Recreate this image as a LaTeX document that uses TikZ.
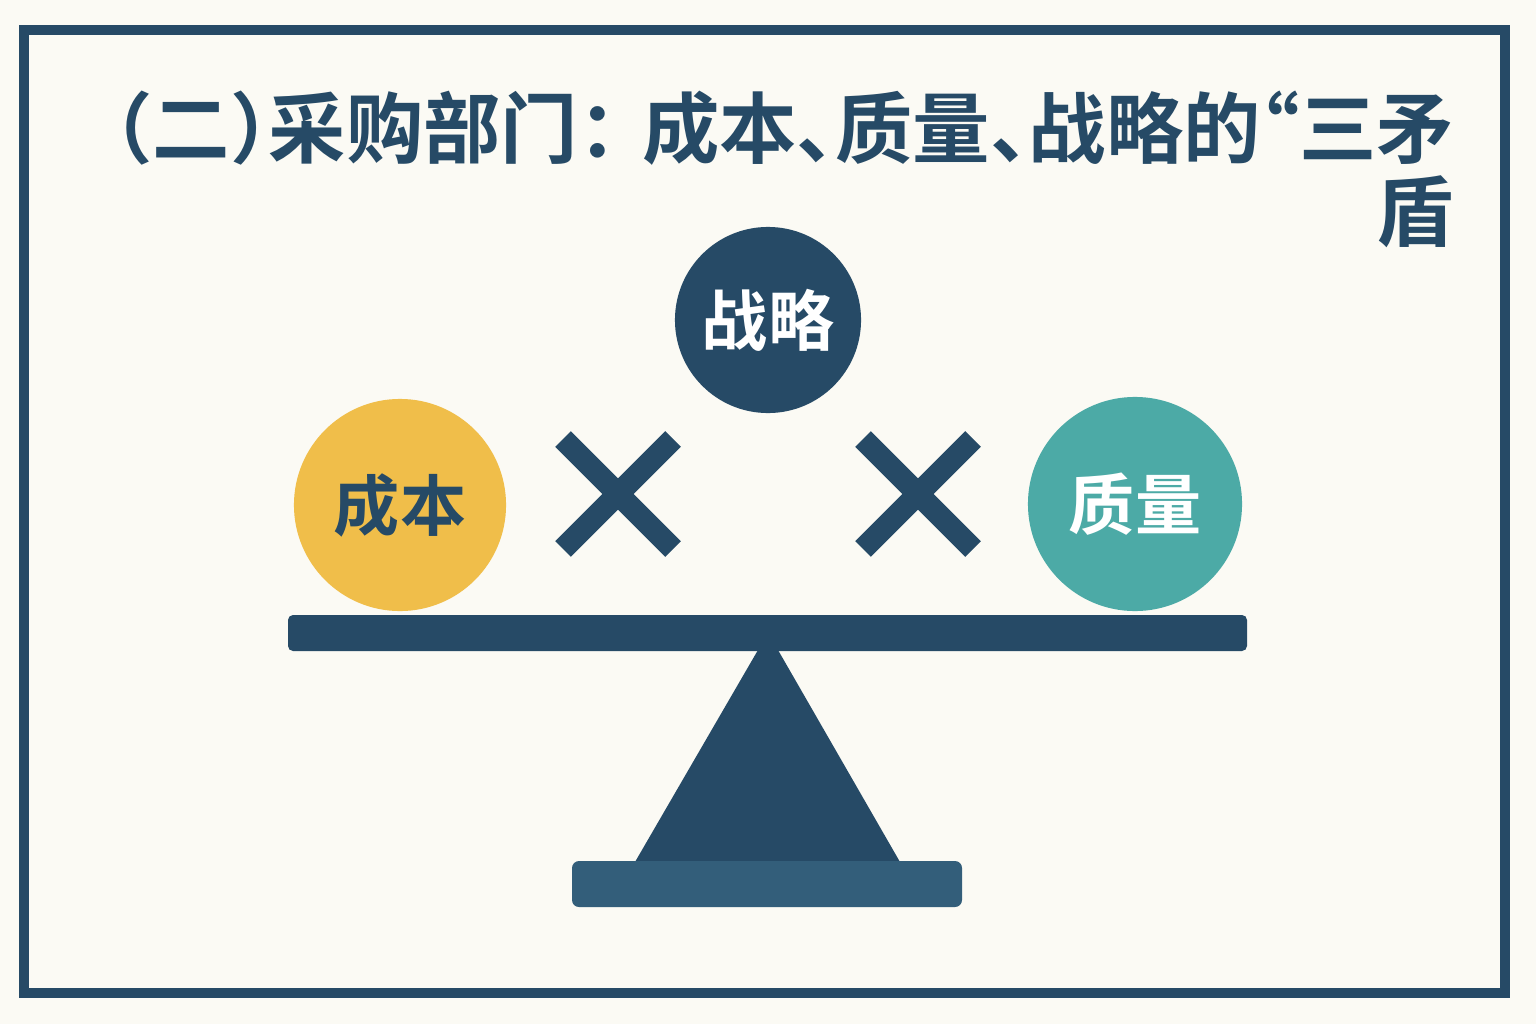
\documentclass[tikz,border=0pt]{standalone}
\usepackage{fontspec}
\newfontfamily\cjk{Noto Sans CJK SC}[RawFeature=+halt, BoldFont={Noto Sans CJK SC Bold}]
\definecolor{navy}{HTML}{264A66}
\definecolor{gold}{HTML}{F0BE4A}
\definecolor{seagreen}{HTML}{4CAAA6}
\definecolor{basecol}{HTML}{335E7A}
\definecolor{paper}{HTML}{FBFAF4}

\begin{document}
\begin{tikzpicture}[%
    x=0.01cm, y=-0.01cm,
    ball/.style={
      circle,
      inner sep=0pt,
      font=\cjk\bfseries\fontsize{18.8}{20}\selectfont
    },
    cross/.style={
      navy,
      line width=0.22cm,
      line cap=butt
    }
  ]
    \fill[paper] (0,0) rectangle (1536,1024);
    \useasboundingbox (0,0) rectangle (1536,1024);
    \draw[navy, line width=0.1cm] (24,30) rectangle (1505,993);

    % title
    \node[anchor=base east, inner sep=0pt, align=right, text=navy,
      font=\cjk\bfseries\fontsize{22}{23.6}\selectfont] (title) at (1455,240)
      {（二）采购部门：\hspace{0.25cm}成本、质量、战略的“三矛\\盾};

    % balls
    \node[ball, fill=navy, text=white, minimum size=1.86cm] (strategy) at (768,320) {战略};
    \node[ball, fill=gold, text=navy, minimum size=2.12cm] (cost) at (400,505) {成本};
    \node[ball, fill=seagreen, text=white, minimum size=2.14cm] (quality) at (1135,504) {质量};

    % crosses
    \draw[cross] (563,439) -- (673,549) (673,439) -- (563,549);
    \draw[cross] (863,439) -- (973,549) (973,439) -- (863,549);

    % seesaw
    \fill[navy, rounded corners=0.05cm] (288,615) rectangle (1247,651);
    \fill[navy] (758,650) -- (778,650) -- (900,862) -- (635,862) -- cycle;
    \fill[basecol, rounded corners=0.07cm] (572,861) rectangle (962,907);

  \end{tikzpicture}
\end{document}
